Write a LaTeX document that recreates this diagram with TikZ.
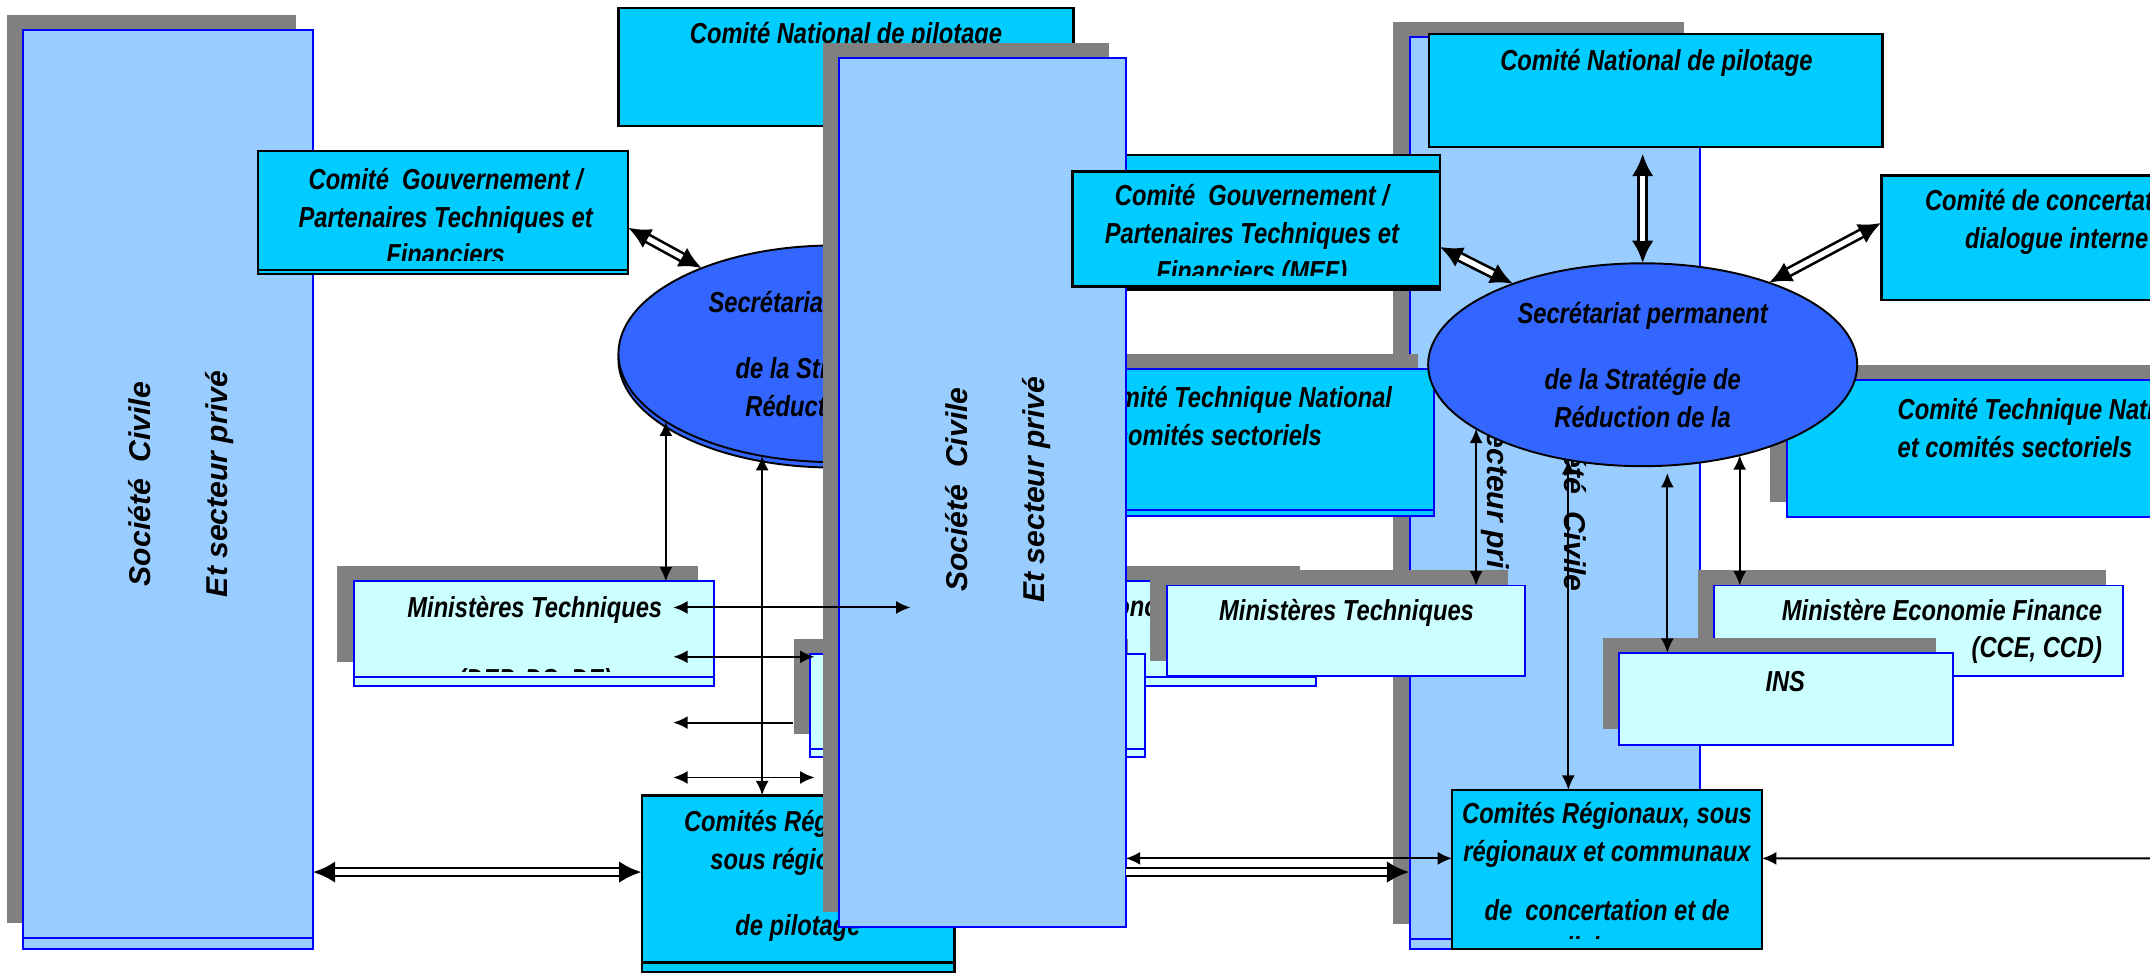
\documentclass[tikz,border=0pt]{standalone}
\usepackage{fontspec}
\newfontfamily\narrowsf[FakeStretch=0.82]{Liberation Sans}
\newfontfamily\panelsf{Liberation Sans}
\usetikzlibrary{shapes.geometric,arrows.meta,shadows}
\definecolor{comcyan}{HTML}{00CCFF}
\definecolor{panelblue}{HTML}{99CCFF}
\definecolor{paleblue}{HTML}{CCFFFF}
\definecolor{secblue}{HTML}{3366FF}
\definecolor{shadowgray}{HTML}{808080}

\begin{document}
\begin{tikzpicture}[x=0.02cm, y=-0.02cm,
    every node/.style={inner sep=0pt, outer sep=0pt},
    txt/.style={font=\narrowsf\bfseries\itshape\fontsize{12}{15.6}\selectfont, align=center},
    ptxt/.style={font=\panelsf\bfseries\itshape\fontsize{12.5}{14}\selectfont, align=center},
    gshade/.style={general shadow={fill=shadowgray, shadow xshift=-0.24cm, shadow yshift=0.22cm}},
    bstrip/.style={general shadow={fill=panelblue, draw=blue, shadow xshift=0cm, shadow yshift=-#1}},
    pstrip/.style={general shadow={fill=paleblue, draw=blue, shadow xshift=0cm, shadow yshift=-#1}},
    cstrip/.style={general shadow={fill=comcyan, draw=black, shadow xshift=0cm, shadow yshift=-#1}},
    tstrip/.style={general shadow={fill=comcyan, draw=blue, shadow xshift=0cm, shadow yshift=-#1}},
    estrip/.style={general shadow={fill=secblue, draw=black, shadow xshift=0cm, shadow yshift=-#1}},
    panelbox/.style={rectangle, fill=panelblue, draw=blue, line width=0.8pt},
    combox/.style={rectangle, fill=comcyan, draw=black, line width=1pt},
    ctnbox/.style={rectangle, fill=comcyan, draw=blue, line width=0.8pt},
    palebox/.style={rectangle, fill=paleblue, draw=blue, line width=0.8pt},
    secell/.style={ellipse, fill=secblue, draw=black, line width=0.8pt, txt},
    arr/.style={line width=0.8pt, {Latex[length=0.21cm,width=0.19cm]}-{Latex[length=0.21cm,width=0.19cm]}},
    arrl/.style={line width=0.8pt, {Latex[length=0.21cm,width=0.19cm]}-},
    arrto/.style={line width=0.8pt, -{Latex[length=0.21cm,width=0.19cm]}},
    dbl/.style={line width=4.4pt, {Latex[length=0.33cm,width=0.32cm]}-{Latex[length=0.33cm,width=0.32cm]},
        postaction={draw=white, line width=2.2pt, -, shorten <=0.33cm, shorten >=0.33cm}},
    dblend/.style={line width=4.4pt, -{Latex[length=0.33cm,width=0.32cm]},
        postaction={draw=white, line width=2.2pt, -, shorten >=0.33cm}}]

  \useasboundingbox (0,0) rectangle (1568,710);
  \clip (0,0) rectangle (1568,710);

  \node[panelbox, gshade, bstrip=0.14cm, minimum width=4.24cm, minimum height=13.16cm] (panelC) at (1134,356) {};
  \node[ptxt, rotate=-90] (panelCtxt) at (1119,357) {Société\ \ Civile\\[18pt]Et secteur privé};

  \node[panelbox, gshade, bstrip=0.16cm, minimum width=4.22cm, minimum height=13.24cm] (panelA) at (122.5,353) {};
  \node[ptxt, rotate=90] (panelAtxt) at (132,353) {Société\ \ Civile\\[18pt]Et secteur privé};

  \node[combox, minimum width=6.64cm, minimum height=1.72cm] (cnpA) at (617,49) {};
  \node[txt] (cnpAtxt) at (617,26) {Comité National de pilotage};
  \node[combox, cstrip=0.06cm, minimum width=5.4cm, minimum height=1.74cm] (cgpA) at (323,153.5) {};
  \begin{scope}
    \clip (cgpA.north west) rectangle ([yshift=0.14cm]cgpA.south east);
    \node[txt] (cgpAtxt) at (325,158) {Comité\ \ Gouvernement /\\Partenaires Techniques et\\Financiers};
  \end{scope}
  \node[secell, estrip=0.08cm, minimum width=6.28cm, minimum height=3.16cm] (spA) at (608,258)
    {Secrétariat permanent\\[12pt]de la Stratégie de\\Réduction de la};
  \path (spA.north |- cnpA.south) ++(0,16) coordinate (cnpAfoot);
  \draw[dbl] (spA.north) -- (cnpAfoot);
  \coordinate (cgpAout) at ([yshift=-0.25cm]cgpA.east);
  \draw[dbl] (cgpAout) -- (spA.147);

  \node[palebox, gshade, pstrip=0.12cm, minimum width=5.26cm, minimum height=1.4cm] (mtA) at (389.5,459) {};
  \begin{scope}
    \clip (mtA.north west) rectangle ([yshift=0.08cm]mtA.south east);
    \node[txt] (mtAtxt) at (390,471) {Ministères Techniques\\[14pt](DEP, DS, DE)};
  \end{scope}
  \node[palebox, gshade, pstrip=0.12cm, minimum width=5.96cm, minimum height=1.4cm] (mefA) at (811,459) {};
  \node[txt, anchor=east, align=right] (mefAtxt) at (945,457.5) {Ministère Economie Finance\\(CCE, CCD)};
  \node[palebox, gshade, pstrip=0.12cm, minimum width=4.88cm, minimum height=1.38cm] (insA) at (713,511.5) {};
  \node[txt] (insAtxt) at (713,498) {INS};
  \node[combox, cstrip=0.14cm, minimum width=4.56cm, minimum height=2.44cm] (crA) at (582,641) {};
  \node[txt] (crAtxt) at (582,639) {Comités Régionaux,\\sous régionaux\\[12pt]de pilotage};

  \draw[arr] (spA.202) -- (spA.202 |- mtA.north);
  \draw[arr] (spA.235) -- (spA.235 |- crA.north);
  \coordinate (hA1l) at (491,443);
  \coordinate (hA1r) at (664,443);
  \coordinate (hA2l) at (491,479);
  \coordinate (hA2r) at (594,479);
  \coordinate (hA3l) at (491,527);
  \coordinate (hA3r) at (578,527);
  \coordinate (hA4l) at (491,567);
  \coordinate (hA4r) at (594,567);
  \draw[arr] (hA2l) -- (hA2r);
  \draw[arrl] (hA3l) -- (hA3r);
  \draw[arr] (hA4l) -- (hA4r);
  \coordinate (crAin) at ([yshift=0.1cm]crA.west);
  \draw[dbl] (crAin) -- (crAin -| panelA.east);

  \node[combox, minimum width=7cm, minimum height=1.96cm] (cgpC) at (875,162) {};
  \node[ctnbox, gshade, tstrip=0.08cm, minimum width=6.8cm, minimum height=2.06cm] (ctnA) at (876,320.5) {};
  \node[txt, anchor=west, align=left] (ctnAtxt) at (793,303.5) {Comité Technique National\\et comités sectoriels};

  \node[panelbox, gshade, minimum width=4.18cm, minimum height=12.68cm] (panelB) at (716.5,359) {};
  \node[ptxt, rotate=90] (panelBtxt) at (728,357) {Société\ \ Civile\\[18pt]Et secteur privé};
  \draw[arr] (hA1l) -- (hA1r);

  \node[combox, minimum width=5.36cm, minimum height=1.68cm] (cgpB) at (916,167) {};
  \begin{scope}
    \clip (cgpB.north west) rectangle ([yshift=0.16cm]cgpB.south east);
    \node[txt] (cgpBtxt) at (913,172) {Comité\ \ Gouvernement /\\Partenaires Techniques et\\Financiers (MEF)};
  \end{scope}
  \node[combox, minimum width=6.62cm, minimum height=1.64cm] (cnpB) at (1207.5,66) {};
  \node[txt] (cnpBtxt) at (1208,46) {Comité National de pilotage};
  \node[combox, minimum width=5.12cm, minimum height=1.82cm] (cdiB) at (1500,173.5) {};
  \node[txt] (cdiBtxt) at (1500,162) {Comité de concertation\\dialogue interne};
  \node[ctnbox, gshade, minimum width=6.8cm, minimum height=2cm] (ctnB) at (1473,327) {};
  \node[txt, anchor=west, align=left] (ctnBtxt) at (1384,312) {Comité Technique National\\et comités sectoriels};
  \node[secell, minimum width=6.26cm, minimum height=2.96cm] (spB) at (1198,266)
    {Secrétariat permanent\\[12pt]de la Stratégie de\\Réduction de la};
  \node[palebox, gshade, minimum width=5.22cm, minimum height=1.32cm] (mtB) at (981.5,460) {};
  \node[txt] (mtBtxt) at (982,447) {Ministères Techniques};
  \node[palebox, gshade, minimum width=5.96cm, minimum height=1.32cm] (mefB) at (1399,460) {};
  \node[txt, anchor=east, align=right] (mefBtxt) at (1533,460.5) {Ministère Economie Finance\\(CCE, CCD)};
  \node[palebox, gshade, minimum width=4.86cm, minimum height=1.34cm] (insB) at (1302.5,509.5) {};
  \node[txt] (insBtxt) at (1302,497) {INS};
  \node[combox, minimum width=4.52cm, minimum height=2.32cm] (crB) at (1172,634) {};
  \begin{scope}
    \clip (crB.north west) rectangle ([yshift=0.15cm]crB.south east);
    \node[txt] (crBtxt) at (1172,644) {Comités Régionaux, sous\\régionaux et communaux\\[9pt]de\ \ concertation et de\\dialogue};
  \end{scope}

  \path (spB.north |- cnpB.south) ++(0,5) coordinate (cnpBfoot);
  \draw[dbl] (spB.north) -- (cnpBfoot);
  \coordinate (cgpBout) at ([yshift=-0.26cm]cgpB.east);
  \draw[dbl] (cgpBout) -- (spB.148);
  \coordinate (cdiBin) at ([yshift=0.22cm]cdiB.west);
  \draw[dbl] (spB.33) -- (cdiBin);
  \draw[arr] (spB.201) -- (spB.201 |- mtB.north);
  \draw[arr] (spB.232) -- (spB.232 |- crB.north);
  \coordinate (spBins) at (1216,345);
  \draw[arr] (spBins) -- (spBins |- insB.north);
  \draw[arr] (spB.317) -- (spB.317 |- mefB.north);
  \coordinate (crBin) at ([yshift=0.16cm]crB.west);
  \draw[arr] (crBin) -- (crBin -| panelB.east);
  \coordinate (crBlow) at ([yshift=-0.04cm]crB.west);
  \draw[dblend] (crBlow -| panelB.east) -- (crBlow -| panelC.west);
  \coordinate (crBeast) at ([yshift=0.16cm]crB.east);
  \coordinate (crBout) at (1590,626);
  \draw[arrto] (crBout) -- (crBeast);
\end{tikzpicture}
\end{document}
